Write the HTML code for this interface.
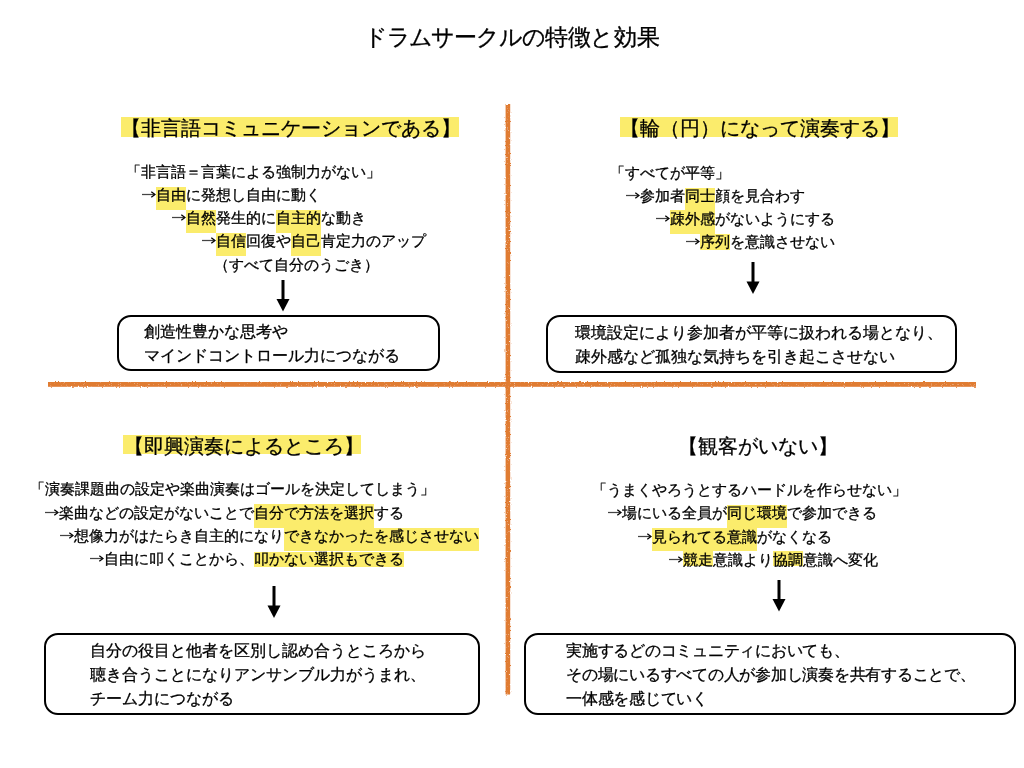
<!DOCTYPE html>
<html lang="ja"><head><meta charset="utf-8"><title>ドラムサークルの特徴と効果</title>
<style>
html,body{margin:0;padding:0;background:#fff;}
body{width:1024px;height:768px;position:relative;overflow:hidden;font-family:"Liberation Sans",sans-serif;color:#000;}
.t{will-change:transform;position:absolute;white-space:nowrap;-webkit-text-stroke:0.3px #000;}
.hl{position:absolute;background:#fbec6c;}
.ln{position:absolute;background:#e07c33;}
.bx{position:absolute;box-sizing:border-box;border:2px solid #000;}
.ad{position:absolute;}
.ar{display:inline-block;width:15px;height:15px;vertical-align:top;}
.ar svg{display:block;}
</style></head><body>
<div class="t" style="left:364.0px;top:26px;font-size:23px;line-height:23px;width:23px">ド</div>
<div class="t" style="left:387.0px;top:26px;font-size:23px;line-height:23px;width:23px">ラ</div>
<div class="t" style="left:408.9px;top:26px;font-size:23px;line-height:23px;width:23px">ム</div>
<div class="t" style="left:430.5px;top:26px;font-size:23px;line-height:23px;width:23px">サ</div>
<div class="t" style="left:453.5px;top:26px;font-size:23px;line-height:23px;width:23px">ー</div>
<div class="t" style="left:475.9px;top:26px;font-size:23px;line-height:23px;width:23px">ク</div>
<div class="t" style="left:498.5px;top:26px;font-size:23px;line-height:23px;width:23px">ル</div>
<div class="t" style="left:521.8px;top:26px;font-size:23px;line-height:23px;width:23px">の</div>
<div class="t" style="left:545.0px;top:26px;font-size:23px;line-height:23px;width:23px">特</div>
<div class="t" style="left:567.8px;top:26px;font-size:23px;line-height:23px;width:23px">徴</div>
<div class="t" style="left:590.4px;top:26px;font-size:23px;line-height:23px;width:23px">と</div>
<div class="t" style="left:613.8px;top:26px;font-size:23px;line-height:23px;width:23px">効</div>
<div class="t" style="left:637.0px;top:26px;font-size:23px;line-height:23px;width:23px">果</div>
<svg style="position:absolute;left:0;top:0" width="1024" height="768" viewBox="0 0 1024 768"><defs><filter id="rough" x="-5%" y="-5%" width="110%" height="110%"><feTurbulence type="fractalNoise" baseFrequency="0.7" numOctaves="2" seed="3" result="n"/><feDisplacementMap in="SourceGraphic" in2="n" scale="2.4" xChannelSelector="R" yChannelSelector="G" result="d"/><feTurbulence type="fractalNoise" baseFrequency="1.3" numOctaves="1" seed="7" result="n2"/><feColorMatrix in="n2" type="matrix" values="0 0 0 0 1  0 0 0 0 0.85  0 0 0 0 0.6  3 0 0 0 -1.9" result="spk"/><feComposite in="spk" in2="d" operator="in" result="spk2"/><feMerge><feMergeNode in="d"/><feMergeNode in="spk2"/></feMerge></filter></defs><g filter="url(#rough)" fill="#e07c33"><rect x="505.6" y="104" width="4.6" height="590.5"/><rect x="48" y="382" width="928" height="4.8"/></g></svg>
<div class="hl" style="left:121px;top:117px;width:338px;height:20px"></div>
<div class="t" style="left:121px;top:118px;font-size:20px;line-height:20px;">【非言語コミュニケーションである】</div>
<div class="t" style="left:126px;top:164px;font-size:15px;line-height:15px;">「非言語＝言葉による強制力がない」</div>
<div class="hl" style="left:156px;top:186.8px;width:30px;height:23.4px"></div>
<div class="t" style="left:141px;top:187px;font-size:15px;line-height:15px;"><span class="ar"><svg width="15" height="15" viewBox="0 0 15 15"><path d="M1 7.5H13" stroke="#444" stroke-width="1.25"/><path d="M10.3 4.8L14 7.5L10.3 10.2" fill="none" stroke="#000" stroke-width="1.3"/></svg></span>自由に発想し自由に動く</div>
<div class="hl" style="left:186px;top:210.1px;width:30px;height:23.4px"></div>
<div class="hl" style="left:276px;top:210.1px;width:45px;height:23.4px"></div>
<div class="t" style="left:171px;top:210px;font-size:15px;line-height:15px;"><span class="ar"><svg width="15" height="15" viewBox="0 0 15 15"><path d="M1 7.5H13" stroke="#444" stroke-width="1.25"/><path d="M10.3 4.8L14 7.5L10.3 10.2" fill="none" stroke="#000" stroke-width="1.3"/></svg></span>自然発生的に自主的な動き</div>
<div class="hl" style="left:216px;top:233.3px;width:30px;height:22.4px"></div>
<div class="hl" style="left:291px;top:233.3px;width:30px;height:22.4px"></div>
<div class="t" style="left:201px;top:233px;font-size:15px;line-height:15px;"><span class="ar"><svg width="15" height="15" viewBox="0 0 15 15"><path d="M1 7.5H13" stroke="#444" stroke-width="1.25"/><path d="M10.3 4.8L14 7.5L10.3 10.2" fill="none" stroke="#000" stroke-width="1.3"/></svg></span>自信回復や自己肯定力のアップ</div>
<div class="t" style="left:214px;top:257px;font-size:15px;line-height:15px;">（すべて自分のうごき）</div>
<svg class="ad" style="left:275.4px;top:279.5px" width="16" height="32.5" viewBox="0 0 16 32.5"><rect x="6.5" y="0" width="3" height="20.0" fill="#000"/><path d="M1.5 19.0H14.5L8 31.5Z" fill="#000"/></svg>
<div class="bx" style="left:117px;top:315px;width:323px;height:56px;border-radius:14px"></div>
<div class="t" style="left:143.5px;top:324px;font-size:16px;line-height:16px;">創造性豊かな思考や</div>
<div class="t" style="left:143.5px;top:348px;font-size:16px;line-height:16px;">マインドコントロール力につながる</div>
<div class="hl" style="left:620px;top:117px;width:278px;height:20px"></div>
<div class="t" style="left:620px;top:118px;font-size:20px;line-height:20px;">【輪（円）になって演奏する】</div>
<div class="t" style="left:610px;top:165px;font-size:15px;line-height:15px;">「すべてが平等」</div>
<div class="hl" style="left:685px;top:187.5px;width:30px;height:23.4px"></div>
<div class="t" style="left:625px;top:188px;font-size:15px;line-height:15px;"><span class="ar"><svg width="15" height="15" viewBox="0 0 15 15"><path d="M1 7.5H13" stroke="#444" stroke-width="1.25"/><path d="M10.3 4.8L14 7.5L10.3 10.2" fill="none" stroke="#000" stroke-width="1.3"/></svg></span>参加者同士顔を見合わす</div>
<div class="hl" style="left:670px;top:210.4px;width:45px;height:23.4px"></div>
<div class="t" style="left:655px;top:211px;font-size:15px;line-height:15px;"><span class="ar"><svg width="15" height="15" viewBox="0 0 15 15"><path d="M1 7.5H13" stroke="#444" stroke-width="1.25"/><path d="M10.3 4.8L14 7.5L10.3 10.2" fill="none" stroke="#000" stroke-width="1.3"/></svg></span>疎外感がないようにする</div>
<div class="hl" style="left:700px;top:233.5px;width:30px;height:16px"></div>
<div class="t" style="left:685px;top:234px;font-size:15px;line-height:15px;"><span class="ar"><svg width="15" height="15" viewBox="0 0 15 15"><path d="M1 7.5H13" stroke="#444" stroke-width="1.25"/><path d="M10.3 4.8L14 7.5L10.3 10.2" fill="none" stroke="#000" stroke-width="1.3"/></svg></span>序列を意識させない</div>
<svg class="ad" style="left:744.5px;top:262px" width="16" height="33" viewBox="0 0 16 33"><rect x="6.5" y="0" width="3" height="20.5" fill="#000"/><path d="M1.5 19.5H14.5L8 32Z" fill="#000"/></svg>
<div class="bx" style="left:546.2px;top:315.2px;width:410.4px;height:58.19999999999999px;border-radius:14px"></div>
<div class="t" style="left:575px;top:325px;font-size:16px;line-height:16px;">環境設定により参加者が平等に扱われる場となり、</div>
<div class="t" style="left:575px;top:349px;font-size:16px;line-height:16px;">疎外感など孤独な気持ちを引き起こさせない</div>
<div class="hl" style="left:123px;top:434.5px;width:238px;height:19.8px"></div>
<div class="t" style="left:123.5px;top:436px;font-size:20px;line-height:20px;">【即興演奏によるところ】</div>
<div class="t" style="left:29.5px;top:481px;font-size:15px;line-height:15px;">「演奏課題曲の設定や楽曲演奏はゴールを決定してしまう」</div>
<div class="hl" style="left:254px;top:504.4px;width:120px;height:23.4px"></div>
<div class="t" style="left:44px;top:505px;font-size:15px;line-height:15px;"><span class="ar"><svg width="15" height="15" viewBox="0 0 15 15"><path d="M1 7.5H13" stroke="#444" stroke-width="1.25"/><path d="M10.3 4.8L14 7.5L10.3 10.2" fill="none" stroke="#000" stroke-width="1.3"/></svg></span>楽曲などの設定がないことで自分で方法を選択する</div>
<div class="hl" style="left:284px;top:528.1px;width:195px;height:23.4px"></div>
<div class="t" style="left:59px;top:528px;font-size:15px;line-height:15px;"><span class="ar"><svg width="15" height="15" viewBox="0 0 15 15"><path d="M1 7.5H13" stroke="#444" stroke-width="1.25"/><path d="M10.3 4.8L14 7.5L10.3 10.2" fill="none" stroke="#000" stroke-width="1.3"/></svg></span>想像力がはたらき自主的になりできなかったを感じさせない</div>
<div class="hl" style="left:254px;top:551.6px;width:150px;height:15px"></div>
<div class="t" style="left:89px;top:551px;font-size:15px;line-height:15px;"><span class="ar"><svg width="15" height="15" viewBox="0 0 15 15"><path d="M1 7.5H13" stroke="#444" stroke-width="1.25"/><path d="M10.3 4.8L14 7.5L10.3 10.2" fill="none" stroke="#000" stroke-width="1.3"/></svg></span>自由に叩くことから、叩かない選択もできる</div>
<svg class="ad" style="left:266.2px;top:585.5px" width="16" height="33.0" viewBox="0 0 16 33.0"><rect x="6.5" y="0" width="3" height="20.5" fill="#000"/><path d="M1.5 19.5H14.5L8 32.0Z" fill="#000"/></svg>
<div class="bx" style="left:44.4px;top:633.2px;width:435.6px;height:82.0px;border-radius:14px"></div>
<div class="t" style="left:89.5px;top:643px;font-size:16px;line-height:16px;">自分の役目と他者を区別し認め合うところから</div>
<div class="t" style="left:89.5px;top:667px;font-size:16px;line-height:16px;">聴き合うことになりアンサンブル力がうまれ、</div>
<div class="t" style="left:89.5px;top:691px;font-size:16px;line-height:16px;">チーム力につながる</div>
<div class="t" style="left:678px;top:436px;font-size:20px;line-height:20px;">【観客がいない】</div>
<div class="t" style="left:592px;top:482px;font-size:15px;line-height:15px;">「うまくやろうとするハードルを作らせない」</div>
<div class="hl" style="left:727px;top:504.9px;width:60px;height:23.4px"></div>
<div class="t" style="left:607px;top:505px;font-size:15px;line-height:15px;"><span class="ar"><svg width="15" height="15" viewBox="0 0 15 15"><path d="M1 7.5H13" stroke="#444" stroke-width="1.25"/><path d="M10.3 4.8L14 7.5L10.3 10.2" fill="none" stroke="#000" stroke-width="1.3"/></svg></span>場にいる全員が同じ環境で参加できる</div>
<div class="hl" style="left:652px;top:527.8px;width:105px;height:23.4px"></div>
<div class="t" style="left:637px;top:529px;font-size:15px;line-height:15px;"><span class="ar"><svg width="15" height="15" viewBox="0 0 15 15"><path d="M1 7.5H13" stroke="#444" stroke-width="1.25"/><path d="M10.3 4.8L14 7.5L10.3 10.2" fill="none" stroke="#000" stroke-width="1.3"/></svg></span>見られてる意識がなくなる</div>
<div class="hl" style="left:682.5px;top:551.4px;width:30px;height:15px"></div>
<div class="hl" style="left:772.5px;top:551.4px;width:30px;height:15px"></div>
<div class="t" style="left:667.5px;top:552px;font-size:15px;line-height:15px;"><span class="ar"><svg width="15" height="15" viewBox="0 0 15 15"><path d="M1 7.5H13" stroke="#444" stroke-width="1.25"/><path d="M10.3 4.8L14 7.5L10.3 10.2" fill="none" stroke="#000" stroke-width="1.3"/></svg></span>競走意識より協調意識へ変化</div>
<svg class="ad" style="left:771.2px;top:580px" width="16" height="32.5" viewBox="0 0 16 32.5"><rect x="6.5" y="0" width="3" height="20.0" fill="#000"/><path d="M1.5 19.0H14.5L8 31.5Z" fill="#000"/></svg>
<div class="bx" style="left:524px;top:633.2px;width:491.5px;height:82.0px;border-radius:14px"></div>
<div class="t" style="left:566px;top:643px;font-size:16px;line-height:16px;letter-spacing:-0.25px">実施するどのコミュニティにおいても、</div>
<div class="t" style="left:566px;top:667px;font-size:16px;line-height:16px;letter-spacing:-0.25px">その場にいるすべての人が参加し演奏を共有することで、</div>
<div class="t" style="left:566px;top:691px;font-size:16px;line-height:16px;letter-spacing:-0.25px">一体感を感じていく</div>
</body></html>
